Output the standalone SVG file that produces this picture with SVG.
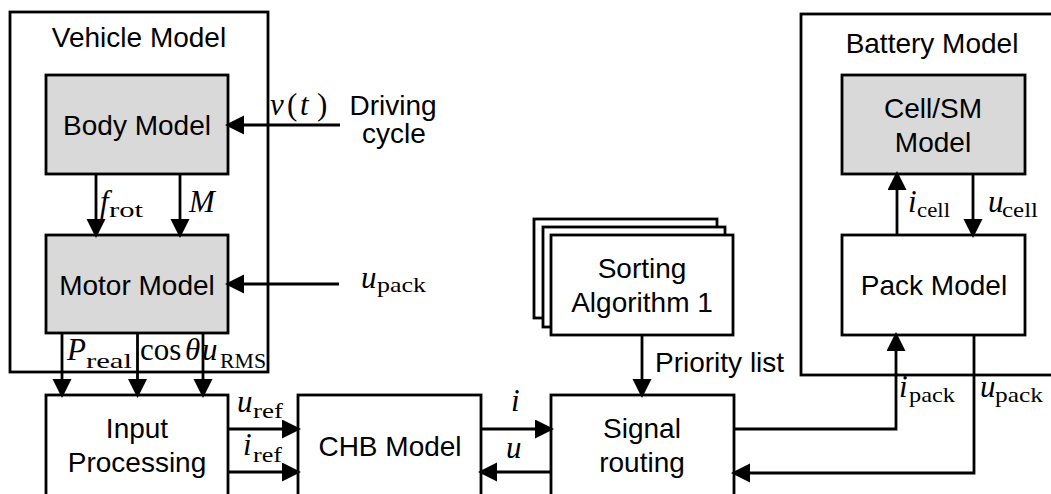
<svg xmlns="http://www.w3.org/2000/svg" width="1051" height="494" viewBox="0 0 1051 494">
  <style>
    .box{fill:#fff;stroke:#000;stroke-width:2.8}
    .grey{fill:#d9d9d9;stroke:#000;stroke-width:2.8}
    .frame{fill:none;stroke:#000;stroke-width:2.8}
    .t{font-family:"Liberation Sans",Arial,sans-serif;font-size:28px;fill:#000;text-anchor:middle}
    .tl{font-family:"Liberation Sans",Arial,sans-serif;font-size:28px;fill:#000}
    .m{font-family:"Liberation Serif","Times New Roman",serif;font-size:31px;font-style:italic;fill:#000}
    .mu{font-family:"Liberation Serif","Times New Roman",serif;font-size:31px;fill:#000}
    .s{font-family:"Liberation Serif","Times New Roman",serif;font-size:22px;fill:#000}
    .conn path{fill:none;stroke:#000;stroke-width:2.8;marker-end:url(#ah)}
  </style>
  <defs>
    <marker id="ah" markerUnits="userSpaceOnUse" markerWidth="20" markerHeight="20" refX="16" refY="9.5" orient="auto">
      <path d="M0,0 L19,9.5 L0,19 Z" fill="#000"/>
    </marker>
  </defs>

  <rect width="1051" height="494" fill="#fff"/>

  <!-- container frames -->
  <g id="vehicle-model">
    <rect class="frame" x="10" y="12" width="258" height="360"/>
    <text class="t" x="139" y="47">Vehicle Model</text>
  </g>
  <g id="battery-model">
    <rect class="frame" x="801" y="14" width="300" height="361"/>
    <text class="t" x="932" y="53">Battery Model</text>
  </g>

  <!-- blocks -->
  <g id="body-model">
    <rect class="grey" x="46" y="75" width="182" height="99"/>
    <text class="t" x="137" y="135">Body Model</text>
  </g>
  <g id="motor-model">
    <rect class="grey" x="46" y="235" width="182" height="98"/>
    <text class="t" x="137" y="295">Motor Model</text>
  </g>
  <g id="input-processing">
    <rect class="box" x="46" y="395" width="182" height="140"/>
    <text class="t" x="137" y="438">Input</text>
    <text class="t" x="137" y="472">Processing</text>
  </g>
  <g id="chb-model">
    <rect class="box" x="298" y="395" width="183" height="140"/>
    <text class="t" x="390" y="456">CHB Model</text>
  </g>
  <g id="signal-routing">
    <rect class="box" x="551" y="395" width="183" height="140"/>
    <text class="t" x="642" y="438">Signal</text>
    <text class="t" x="642" y="472">routing</text>
  </g>
  <g id="sorting-algorithm">
    <rect class="box" x="534" y="219" width="183" height="99"/>
    <rect class="box" x="543" y="227" width="182" height="100"/>
    <rect class="box" x="551" y="235" width="182" height="100"/>
    <text class="t" x="642" y="278">Sorting</text>
    <text class="t" x="642" y="312">Algorithm 1</text>
  </g>
  <g id="cell-sm-model">
    <rect class="grey" x="842" y="75" width="183" height="99"/>
    <text class="t" x="933" y="118">Cell/SM</text>
    <text class="t" x="933" y="152">Model</text>
  </g>
  <g id="pack-model">
    <rect class="box" x="842" y="235" width="183" height="100"/>
    <text class="t" x="934" y="295">Pack Model</text>
  </g>
  <g id="driving-cycle">
    <text class="t" x="393" y="115">Driving</text>
    <text class="t" x="394" y="143">cycle</text>
  </g>

  <!-- signal lines -->
  <g id="connectors" class="conn">
    <path d="M340,125 H228"/>
    <path d="M96,174 V235"/>
    <path d="M180,174 V235"/>
    <path d="M339,284 H228"/>
    <path d="M62,333 V395"/>
    <path d="M137.5,333 V395"/>
    <path d="M203,333 V395"/>
    <path d="M228,429 H298"/>
    <path d="M228,472 H298"/>
    <path d="M481,429 H551"/>
    <path d="M551,472 H481"/>
    <path d="M642,335 V395"/>
    <path d="M734,429 H896 V335"/>
    <path d="M974,335 V473 H734"/>
    <path d="M897,235 V174"/>
    <path d="M973,174 V235"/>
  </g>

  <!-- signal labels -->
  <g id="labels">
    <text y="115"><tspan class="m" x="270">v</tspan><tspan class="mu" x="287">(</tspan><tspan class="m" x="300">t</tspan><tspan class="mu" x="317">)</tspan></text>
    <text class="m" x="100" y="212">f</text><text class="s" x="109" y="217" textLength="34" lengthAdjust="spacingAndGlyphs">rot</text>
    <text class="m" x="189" y="212">M</text>
    <text class="m" x="361" y="288">u</text><text class="s" x="377" y="292" textLength="49" lengthAdjust="spacingAndGlyphs">pack</text>
    <text class="m" x="67" y="360">P</text><text class="s" x="86" y="368" textLength="46" lengthAdjust="spacingAndGlyphs">real</text>
    <text y="360"><tspan class="mu" x="140">cos</tspan><tspan class="m" x="185">θ</tspan></text>
    <text class="m" x="202" y="360">u</text><text class="s" x="220" y="368" textLength="46" lengthAdjust="spacingAndGlyphs">RMS</text>
    <text class="m" x="237" y="412">u</text><text class="s" x="253" y="418" textLength="30" lengthAdjust="spacingAndGlyphs">ref</text>
    <text class="m" x="243" y="455">i</text><text class="s" x="253" y="462" textLength="29" lengthAdjust="spacingAndGlyphs">ref</text>
    <text class="m" x="511" y="411">i</text>
    <text class="m" x="506" y="458">u</text>
    <text class="tl" x="655" y="372">Priority list</text>
    <text class="m" x="899" y="397">i</text><text class="s" x="909" y="402" textLength="46" lengthAdjust="spacingAndGlyphs">pack</text>
    <text class="m" x="980" y="397">u</text><text class="s" x="995" y="402" textLength="48" lengthAdjust="spacingAndGlyphs">pack</text>
    <text class="m" x="908" y="212">i</text><text class="s" x="917" y="217" textLength="33" lengthAdjust="spacingAndGlyphs">cell</text>
    <text class="m" x="988" y="212">u</text><text class="s" x="1002" y="217" textLength="36" lengthAdjust="spacingAndGlyphs">cell</text>
  </g>
</svg>
